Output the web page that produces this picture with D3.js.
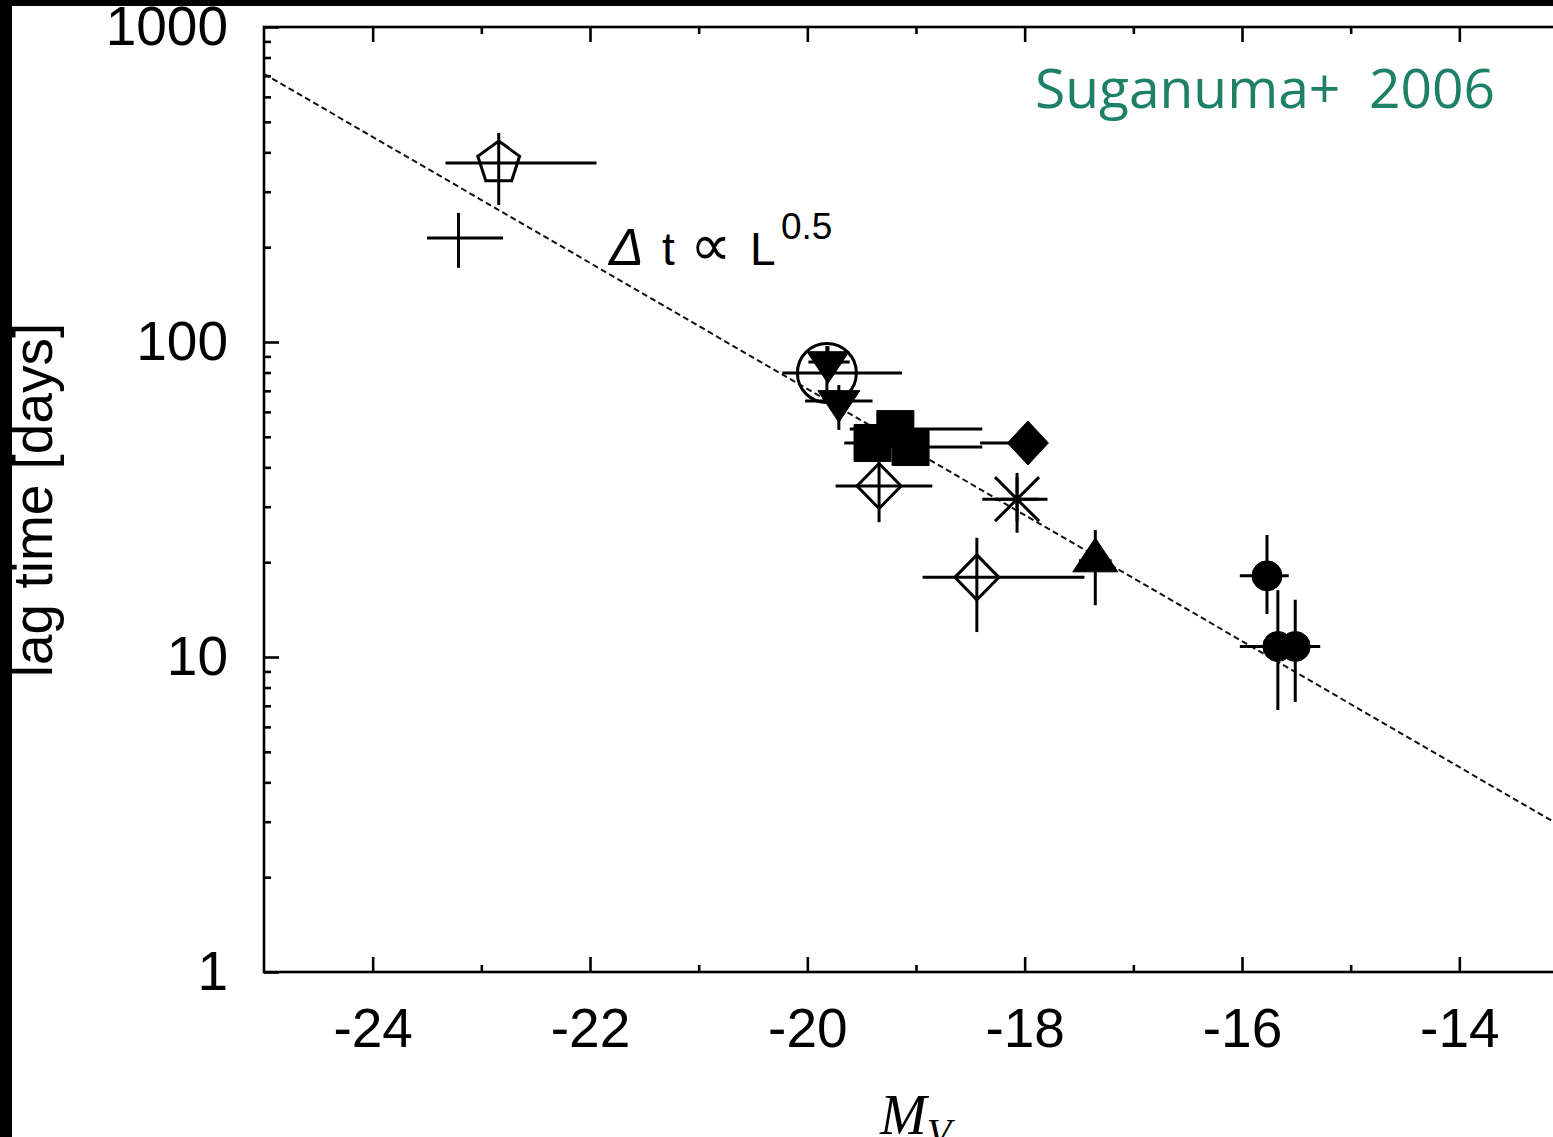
<!DOCTYPE html>
<html>
<head>
<meta charset="utf-8">
<script src="https://cdn.jsdelivr.net/npm/d3@7"></script>
<style>
  body { margin: 0; background: #fff; }
  svg { display: block; }
  .tick text { font-family: "Liberation Sans", Arial, sans-serif; font-size: 55px; fill: #000; }
  .tick line { stroke: #000; stroke-width: 2.6; }
  .domain { display: none; }
</style>
</head>
<body>
<div id="plot"></div>
<script>
const CANVAS_WIDTH  = 1553;
const CANVAS_HEIGHT = 1137;

const PLOT_LEFT   = 264;
const PLOT_RIGHT  = 1568;   // right frame sits just past the crop
const PLOT_TOP    = 27;
const PLOT_BOTTOM = 972;

// tick values
const X_MAJOR = [-24, -22, -20, -18, -16, -14];
const X_MINOR = [-23, -21, -19, -17, -15, -13];
const Y_MAJOR = [1, 10, 100, 1000];
const Y_MINOR = [2, 3, 4, 5, 6, 7, 8, 9, 20, 30, 40, 50, 60, 70, 80, 90, 200, 300, 400, 500, 600, 700, 800, 900];

// one entry per object
const KIND   = ["pentagon", "plus", "circleOpen", "triDown", "triDown", "square", "square", "square",
                "diamondFilled", "diamondOpen", "asterisk", "diamondOpen", "triUp",
                "circleFilled", "circleFilled", "circleFilled"];
const MV     = [-22.84, -23.21, -19.82, -19.81, -19.71, -19.40, -19.19, -19.05,
                -17.97, -19.34, -18.07, -18.44, -17.35, -15.77, -15.67, -15.51];
const LAG    = [370, 214, 79.7, 86.4, 65.0, 47.8, 52.9, 46.4,
                47.8, 34.9, 31.7, 17.9, 20.2, 18.1, 10.8, 10.8];
const MV_LO  = [-23.33, -23.50, -20.23, -19.99, -20.02, -19.66, -19.61, -19.52,
                -18.41, -19.74, -18.39, -18.94, -17.50, -16.02, -16.02, -15.75];
const MV_HI  = [-21.94, -22.80, -19.13, -19.61, -19.40, -18.90, -18.39, -18.39,
                -17.86, -18.85, -17.79, -17.45, -17.20, -15.57, -15.40, -15.28];
const LAG_LO = [272, 172, 65.5, 75, 52.6, 42, 46, 41,
                42, 26.8, 24.8, 12.0, 14.6, 13.7, 6.79, 7.2];
const LAG_HI = [461, 257, 97.1, 97, 73, 54, 60, 51,
                54, 43.8, 38.4, 23.9, 25.3, 24.4, 16.3, 15.2];

// dashed relation  dt ~ L^0.5
const FIT_MV  = [-25, -13];
const FIT_LAG = [710, 2.82];

var svg, xScale, yScale;

function polySym(pts) {
    return {
        draw: function(ctx, s) {
            ctx.moveTo(pts[0][0] * s, pts[0][1] * s);
            for (var i = 1; i < pts.length; i++) ctx.lineTo(pts[i][0] * s, pts[i][1] * s);
            ctx.closePath();
        }
    };
}

var pentaPts = d3.range(5).map(function(i) {
    var a = (-90 + 72 * i) * Math.PI / 180;
    return [Math.cos(a), Math.sin(a)];
});

var circleType = {draw: function(ctx, r) { ctx.moveTo(r, 0); ctx.arc(0, 0, r, 0, 2 * Math.PI); }};

const SYMBOLS = {
    pentagon:      {type: polySym(pentaPts), size: 22, filled: false},
    plus:          null,
    circleOpen:    {type: circleType, size: 29.5, filled: false},
    circleFilled:  {type: circleType, size: 15, filled: true},
    triDown:       {type: polySym([[-1, -0.49], [1, -0.49], [0, 1.02]]), size: 21, filled: true},
    triUp:         {type: polySym([[-1, 0.49], [1, 0.49], [0, -1.02]]), size: 22.5, filled: true},
    square:        {type: polySym([[-1, -1], [1, -1], [1, 1], [-1, 1]]), size: 18.5, filled: true},
    diamondFilled: {type: polySym([[0, -1.07], [1, 0], [0, 1.07], [-1, 0]]), size: 20.5, filled: true},
    diamondOpen:   {type: polySym([[0, -1.02], [1, 0], [0, 1.02], [-1, 0]]), size: 22, filled: false},
    asterisk:      {type: {draw: function(ctx, s) {
                        ctx.moveTo(-s, 0); ctx.lineTo(s, 0);
                        ctx.moveTo(0, -s); ctx.lineTo(0, s);
                        ctx.moveTo(-s, -s); ctx.lineTo(s, s);
                        ctx.moveTo(-s, s); ctx.lineTo(s, -s);
                    }}, size: 22, filled: false}
};

svg = d3.select("#plot")
        .append("svg")
        .attr("width", CANVAS_WIDTH)
        .attr("height", CANVAS_HEIGHT);

svg.append("rect")
   .attr("width", CANVAS_WIDTH).attr("height", CANVAS_HEIGHT)
   .attr("fill", "#fff");

xScale = d3.scaleLinear().domain([-25, -13]).range([PLOT_LEFT, PLOT_RIGHT]);
yScale = d3.scaleLog().domain([1, 1000]).range([PLOT_BOTTOM, PLOT_TOP]);

// axes (ticks pointing inwards, mirrored on top / right)
svg.append("g")
   .attr("transform", "translate(0," + PLOT_BOTTOM + ")")
   .call(d3.axisBottom(xScale).tickValues(X_MAJOR).tickSizeInner(-15).tickSizeOuter(0)
           .tickPadding(36).tickFormat(function(d) { return String(d); }));
svg.append("g")
   .attr("transform", "translate(0," + PLOT_BOTTOM + ")")
   .call(d3.axisBottom(xScale).tickValues(X_MINOR).tickSizeInner(-7).tickSizeOuter(0).tickFormat(""));
svg.append("g")
   .attr("transform", "translate(0," + PLOT_TOP + ")")
   .call(d3.axisTop(xScale).tickValues(X_MAJOR).tickSizeInner(-15).tickSizeOuter(0).tickFormat(""));
svg.append("g")
   .attr("transform", "translate(0," + PLOT_TOP + ")")
   .call(d3.axisTop(xScale).tickValues(X_MINOR).tickSizeInner(-7).tickSizeOuter(0).tickFormat(""));

svg.append("g")
   .attr("transform", "translate(" + PLOT_LEFT + ",0)")
   .call(d3.axisLeft(yScale).tickValues(Y_MAJOR).tickSizeInner(-15).tickSizeOuter(0)
           .tickPadding(36).tickFormat(d3.format("d")));
svg.append("g")
   .attr("transform", "translate(" + PLOT_LEFT + ",0)")
   .call(d3.axisLeft(yScale).tickValues(Y_MINOR).tickSizeInner(-7).tickSizeOuter(0).tickFormat(""));
svg.append("g")
   .attr("transform", "translate(" + PLOT_RIGHT + ",0)")
   .call(d3.axisRight(yScale).tickValues(Y_MAJOR).tickSizeInner(-15).tickSizeOuter(0).tickFormat(""));
svg.append("g")
   .attr("transform", "translate(" + PLOT_RIGHT + ",0)")
   .call(d3.axisRight(yScale).tickValues(Y_MINOR).tickSizeInner(-7).tickSizeOuter(0).tickFormat(""));

// frame
svg.append("rect")
   .attr("x", PLOT_LEFT).attr("y", PLOT_TOP)
   .attr("width", PLOT_RIGHT - PLOT_LEFT).attr("height", PLOT_BOTTOM - PLOT_TOP)
   .attr("fill", "none").attr("stroke", "#000").attr("stroke-width", 2.6);

// dashed relation
svg.append("path")
   .datum(d3.zip(FIT_MV, FIT_LAG))
   .attr("d", d3.line().x(function(d) { return xScale(d[0]); }).y(function(d) { return yScale(d[1]); }))
   .attr("fill", "none")
   .attr("stroke", "#111")
   .attr("stroke-width", 2)
   .attr("stroke-dasharray", "6 3.5");

// error bars
var idx = d3.range(KIND.length);
var bars = svg.append("g").attr("stroke", "#000").attr("stroke-width", 3);
bars.selectAll("line.xerr").data(idx).enter().append("line")
    .attr("class", "xerr")
    .attr("x1", function(i) { return xScale(MV_LO[i]); })
    .attr("x2", function(i) { return xScale(MV_HI[i]); })
    .attr("y1", function(i) { return yScale(LAG[i]); })
    .attr("y2", function(i) { return yScale(LAG[i]); });
bars.selectAll("line.yerr").data(idx).enter().append("line")
    .attr("class", "yerr")
    .attr("x1", function(i) { return xScale(MV[i]); })
    .attr("x2", function(i) { return xScale(MV[i]); })
    .attr("y1", function(i) { return yScale(LAG_LO[i]); })
    .attr("y2", function(i) { return yScale(LAG_HI[i]); });

// symbols
svg.append("g").selectAll("path.pt")
   .data(idx.filter(function(i) { return SYMBOLS[KIND[i]]; }))
   .enter().append("path")
   .attr("class", "pt")
   .attr("transform", function(i) { return "translate(" + xScale(MV[i]) + "," + yScale(LAG[i]) + ")"; })
   .attr("d", function(i) { var s = SYMBOLS[KIND[i]]; return d3.symbol().type(s.type).size(s.size)(); })
   .attr("fill", function(i) { return SYMBOLS[KIND[i]].filled ? "#000" : "none"; })
   .attr("stroke", "#000")
   .attr("stroke-width", function(i) { return SYMBOLS[KIND[i]].filled ? 1 : 3; });

// annotation  dt ~ L^0.5
var ann = svg.append("text")
   .attr("y", 265)
   .style("font-family", "'Liberation Sans', 'DejaVu Sans', sans-serif")
   .style("font-size", "46px")
   .attr("fill", "#000");
ann.append("tspan").attr("x", 609).style("font-style", "italic").style("font-size", "52px").text("\u0394");
ann.append("tspan").attr("x", 662).text("t");
ann.append("tspan").attr("x", 690).style("font-family", "'DejaVu Sans', sans-serif").style("font-size", "58px").text("\u221d");
ann.append("tspan").attr("x", 750).text("L");
ann.append("tspan").attr("x", 781).attr("y", 239).style("font-size", "37px").text("0.5");

// axis titles
svg.append("text")
   .attr("transform", "translate(52,500) rotate(-90)")
   .attr("text-anchor", "middle")
   .style("font-family", "'Liberation Sans', Arial, sans-serif")
   .style("font-size", "55px")
   .text("lag time [days]");

var xt = svg.append("text")
   .attr("x", 880).attr("y", 1134)
   .style("font-family", "'Liberation Serif', 'Times New Roman', serif")
   .style("font-style", "italic")
   .style("font-size", "56px");
xt.append("tspan").text("M");
xt.append("tspan").attr("dy", 12).style("font-size", "40px").text("V");

// citation
svg.append("text")
   .attr("x", 1035).attr("y", 108)
   .attr("textLength", 460).attr("lengthAdjust", "spacingAndGlyphs")
   .style("font-family", "'Open Sans', 'Noto Sans', sans-serif")
   .style("font-size", "55px")
   .style("white-space", "pre")
   .attr("fill", "#1e8066")
   .text("Suganuma+  2006");

// black borders of the screenshot
svg.append("rect").attr("x", 0).attr("y", 0).attr("width", 12).attr("height", CANVAS_HEIGHT).attr("fill", "#000");
svg.append("rect").attr("x", 0).attr("y", 0).attr("width", CANVAS_WIDTH).attr("height", 6).attr("fill", "#000");
</script>
</body>
</html>
